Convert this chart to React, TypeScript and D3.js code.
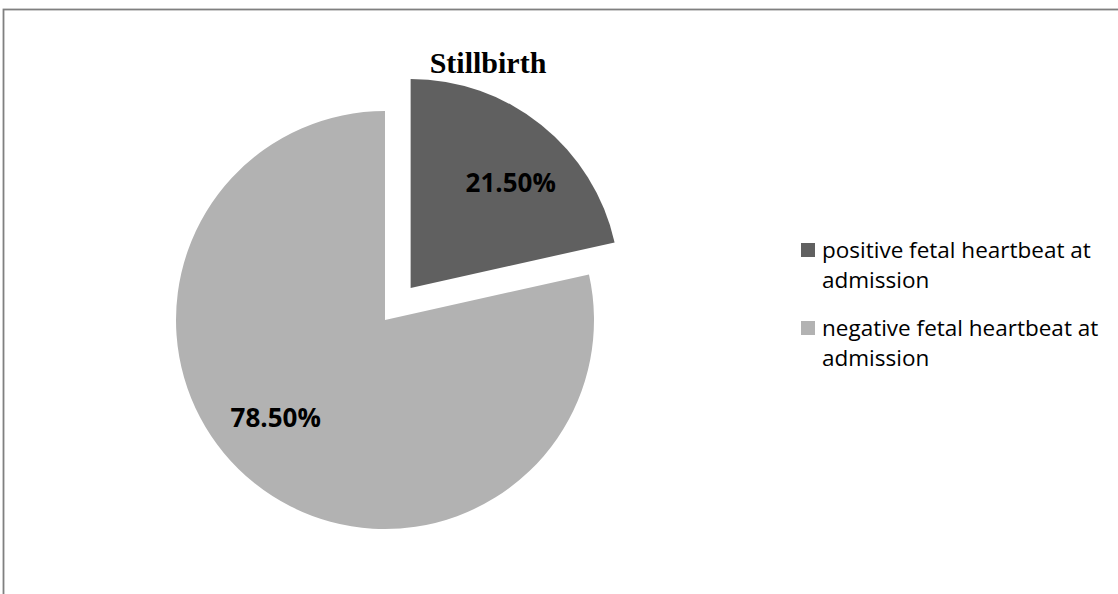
import React from "react";
import * as d3 from "d3";

const title = "Stillbirth";
const categories = [
  "positive fetal heartbeat at admission",
  "negative fetal heartbeat at admission",
];
const values = [21.5, 78.5];
const valueLabels = ["21.50%", "78.50%"];
const legendLines = [
  ["positive fetal heartbeat at", "admission"],
  ["negative fetal heartbeat at", "admission"],
];
const colors = ["#606060", "#b2b2b2"];

const W = 1118;
const H = 594;

export default function App() {
  const cx = 385;
  const cy = 320;
  const R = 209;
  const explode = 41;
  const labelR = 146;
  const labelShift = [0.08, 0.17];

  const pie = d3
    .pie<number>()
    .sort(null)
    .value((d) => d)
    .startAngle(0)
    .endAngle(Math.PI * 2);
  const arcs = pie(values);
  const arcGen = d3.arc<d3.PieArcDatum<number>>().innerRadius(0).outerRadius(R);

  return (
    <svg
      width={W}
      height={H}
      style={{ position: "fixed", left: 0, top: 0, background: "#fff" }}
    >
      <rect x={0} y={0} width={W} height={H} fill="#fff" />
      <rect
        x={3.5}
        y={9.5}
        width={W + 20}
        height={H + 20}
        fill="none"
        stroke="#808080"
        strokeWidth={1.8}
      />
      {arcs.map((a, i) => {
        const mid = (a.startAngle + a.endAngle) / 2;
        const off = i === 0 ? explode : 0;
        const ox = cx + off * Math.sin(mid);
        const oy = cy - off * Math.cos(mid);
        const la = mid + labelShift[i];
        const lx = ox + labelR * Math.sin(la);
        const ly = oy - labelR * Math.cos(la);
        return (
          <g key={i}>
            <path
              d={arcGen(a) || ""}
              transform={`translate(${ox},${oy})`}
              fill={colors[i]}
            />
            <text
              x={lx}
              y={ly}
              textAnchor="middle"
              dominantBaseline="central"
              fontFamily="'Open Sans', sans-serif"
              fontWeight="bold"
              fontSize={26}
              fill="#000"
            >
              {valueLabels[i]}
            </text>
          </g>
        );
      })}
      <text
        x={488}
        y={73}
        textAnchor="middle"
        fontFamily="'Liberation Serif', serif"
        fontWeight="bold"
        fontSize={30}
        fill="#000"
      >
        {title}
      </text>
      {categories.map((c, i) => (
        <g key={c} transform={`translate(801,${243 + i * 78})`}>
          <rect x={0} y={0} width={14} height={14} fill={colors[i]} />
          {legendLines[i].map((ln, j) => (
            <text
              key={j}
              x={21}
              y={14.5 + j * 30.5}
              fontFamily="'Open Sans', sans-serif"
              fontSize={22.5}
              fill="#000"
            >
              {ln}
            </text>
          ))}
        </g>
      ))}
    </svg>
  );
}
